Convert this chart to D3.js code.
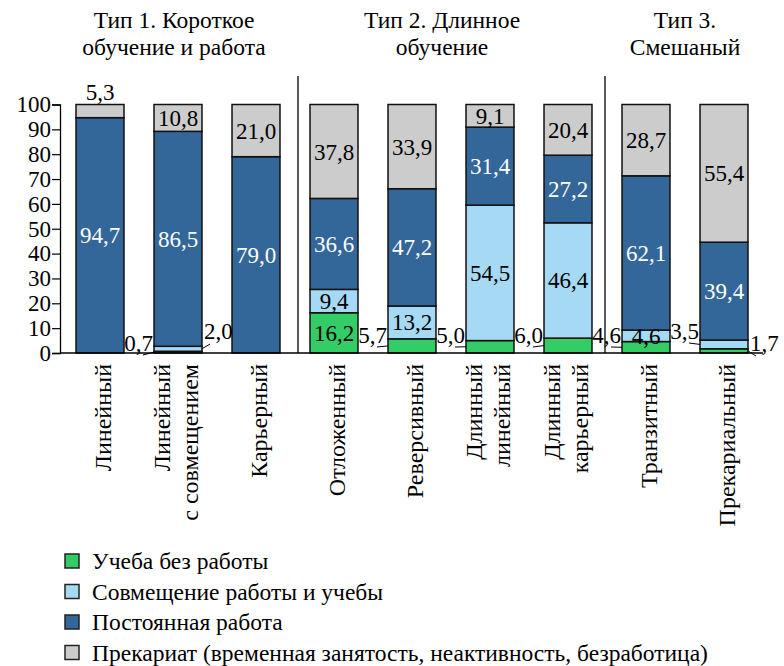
<!DOCTYPE html>
<html><head><meta charset="utf-8">
<script src="https://cdn.jsdelivr.net/npm/d3@7"></script></head>
<body style="margin:0">
<div id="w"></div>
<script>
// data
const categories = ["Линейный", "Линейный|с совмещением", "Карьерный", "Отложенный", "Реверсивный",
  "Длинный|линейный", "Длинный|карьерный", "Транзитный", "Прекариальный"]
const study = [0, 0.7, 0, 16.2, 5.7, 5.0, 6.0, 4.6, 1.7]
const combined = [0, 2.0, 0, 9.4, 13.2, 54.5, 46.4, 4.6, 3.5]
const permanent = [94.7, 86.5, 79.0, 36.6, 47.2, 31.4, 27.2, 62.1, 39.4]
const precariat = [5.3, 10.8, 21.0, 37.8, 33.9, 9.1, 20.4, 28.7, 55.4]
const seriesNames = ["Учеба без работы", "Совмещение работы и учебы", "Постоянная работа",
  "Прекариат (временная занятость, неактивность, безработица)"]
const groupTitles = [
  { lines: ["Тип 1. Короткое", "обучение и работа"], from: 0, to: 2 },
  { lines: ["Тип 2. Длинное", "обучение"], from: 3, to: 6 },
  { lines: ["Тип 3.", "Смешаный"], from: 7, to: 8 },
]
const yTicks = [0, 10, 20, 30, 40, 50, 60, 70, 80, 90, 100]
// which small values are written outside the bar
const outsideLabels = [
  { cat: 1, key: "study", side: "left" },
  { cat: 1, key: "combined", side: "right" },
  { cat: 4, key: "study", side: "left" },
  { cat: 5, key: "study", side: "left" },
  { cat: 6, key: "study", side: "left" },
  { cat: 7, key: "study", side: "left" },
  { cat: 8, key: "combined", side: "left" },
  { cat: 8, key: "study", side: "right" },
]

const keys = ["study", "combined", "permanent", "precariat"]
const colors = { study: "#33cc66", combined: "#a6d9f3", permanent: "#336699", precariat: "#cccccc" }
const textColors = { study: "#000", combined: "#000", permanent: "#fff", precariat: "#000" }

const table = categories.map((c, i) => ({
  cat: c, i,
  study: study[i], combined: combined[i], permanent: permanent[i], precariat: precariat[i],
}))

const fmt = v => d3.format(".1f")(v).replace(".", ",")
const font = "'Liberation Serif'"

const svg = d3.select("#w").append("svg").attr("width", 784).attr("height", 666)

// text helper: every label carries the serif face itself
const addText = (parent, size) => parent.append("text")
  .attr("font-family", font)
  .attr("font-size", size)

const x = d3.scaleBand()
  .domain(d3.range(categories.length))
  .range([61, 763])
  .paddingInner(0.385)
  .paddingOuter(0.1925)
const y = d3.scaleLinear().domain([0, 100]).range([353, 104.5])

const series = d3.stack().keys(keys)(table)

// group titles + dividers
const titleShift = [-4, -9, 0]
const dividerShift = [3, -2]
groupTitles.forEach((g, gi) => {
  const x0 = x(g.from)
  const x1 = x(g.to) + x.bandwidth()
  g.lines.forEach((l, li) => {
    addText(svg, 23.5)
      .attr("text-anchor", "middle")
      .attr("x", (x0 + x1) / 2 + titleShift[gi])
      .attr("y", 28 + li * 27)
      .text(l)
  })
  if (gi > 0) {
    const prevEnd = x(g.from - 1) + x.bandwidth()
    const xd = (prevEnd + x0) / 2 + dividerShift[gi - 1]
    svg.append("line")
      .attr("x1", xd).attr("x2", xd)
      .attr("y1", 76).attr("y2", y(0))
      .attr("stroke", "#000").attr("stroke-width", 1.3)
  }
})

// bars
svg.append("g").selectAll("g")
  .data(series)
  .join("g")
  .attr("fill", d => colors[d.key])
  .selectAll("rect")
  .data(d => d)
  .join("rect")
  .attr("x", d => x(d.data.i))
  .attr("y", d => y(d[1]))
  .attr("width", x.bandwidth())
  .attr("height", d => y(d[0]) - y(d[1]))
  .attr("stroke", "#111")
  .attr("stroke-width", d => (d[1] - d[0]) > 0 ? 1.5 : 0)

// inside labels
const isOutside = (i, key) => outsideLabels.some(o => o.cat === i && o.key === key)
series.forEach(s => {
  s.forEach(d => {
    const v = d[1] - d[0]
    if (v <= 0 || isOutside(d.data.i, s.key)) return
    const above = s.key === "precariat" && v < 6
    const ty = above ? y(100) - 13 : (y(d[0]) + y(d[1])) / 2
    addText(svg, 23)
      .attr("x", x(d.data.i) + x.bandwidth() / 2)
      .attr("y", ty)
      .attr("dy", "0.35em")
      .attr("text-anchor", "middle")
      .attr("fill", above ? "#000" : textColors[s.key])
      .text(fmt(v))
  })
})

// outside labels with small leader lines
outsideLabels.forEach(o => {
  const v = table[o.cat][o.key]
  const s = series.find(s => s.key === o.key)[o.cat]
  const segMid = (y(s[0]) + y(s[1])) / 2
  const left = o.side === "left"
  const edge = left ? x(o.cat) : x(o.cat) + x.bandwidth()
  const tx = left ? edge - 1 : edge + 2
  let by = v < 1 || (!left && o.key === "study") ? y(0) - 2 : y(0) - 10
  if (o.key === "combined") by -= 4
  addText(svg, 23)
    .attr("x", tx)
    .attr("y", by)
    .attr("text-anchor", left ? "end" : "start")
    .text(fmt(v))
  svg.append("line")
    .attr("x1", left ? tx - 10 : edge + 8)
    .attr("y1", left ? by + 4 : by + 5)
    .attr("x2", edge)
    .attr("y2", segMid)
    .attr("stroke", "#000").attr("stroke-width", 1)
})

// y axis
const yAxis = svg.append("g")
  .attr("transform", "translate(60,0)")
  .call(d3.axisLeft(y).tickValues(yTicks).tickSize(8).tickPadding(1))
yAxis.attr("font-family", font).attr("font-size", 23)
yAxis.select(".domain").attr("stroke", "#000").attr("stroke-width", 1.3)
yAxis.selectAll(".tick line").attr("stroke", "#000").attr("stroke-width", 1.2)
yAxis.selectAll(".tick text")
  .attr("font-family", font)
  .attr("font-size", 23)
  .attr("fill", "#000")

// baseline
svg.append("line")
  .attr("x1", 60).attr("x2", 763)
  .attr("y1", y(0)).attr("y2", y(0))
  .attr("stroke", "#000").attr("stroke-width", 1.5)

// category labels (rotated)
categories.forEach((c, i) => {
  const lines = c.split("|")
  const cx = x(i) + x.bandwidth() / 2
  lines.forEach((l, li) => {
    const off = lines.length === 1 ? 3 : (li === 0 ? -16 : 12)
    addText(svg, 24)
      .attr("transform", `translate(${cx + off},364) rotate(-90)`)
      .attr("text-anchor", "end")
      .attr("dy", "0.35em")
      .text(l)
  })
})

// legend
const legend = svg.append("g").attr("transform", "translate(65,561)")
seriesNames.forEach((n, i) => {
  const row = legend.append("g").attr("transform", `translate(0,${i * 30.5})`)
  row.append("rect")
    .attr("x", 0).attr("y", -7).attr("width", 14).attr("height", 14)
    .attr("fill", colors[keys[i]])
    .attr("stroke", "#222").attr("stroke-width", 1.5)
  addText(row, 23.5)
    .attr("x", 27).attr("y", 0).attr("dy", "0.35em")
    .text(n)
})
</script>
</body>
</html>
